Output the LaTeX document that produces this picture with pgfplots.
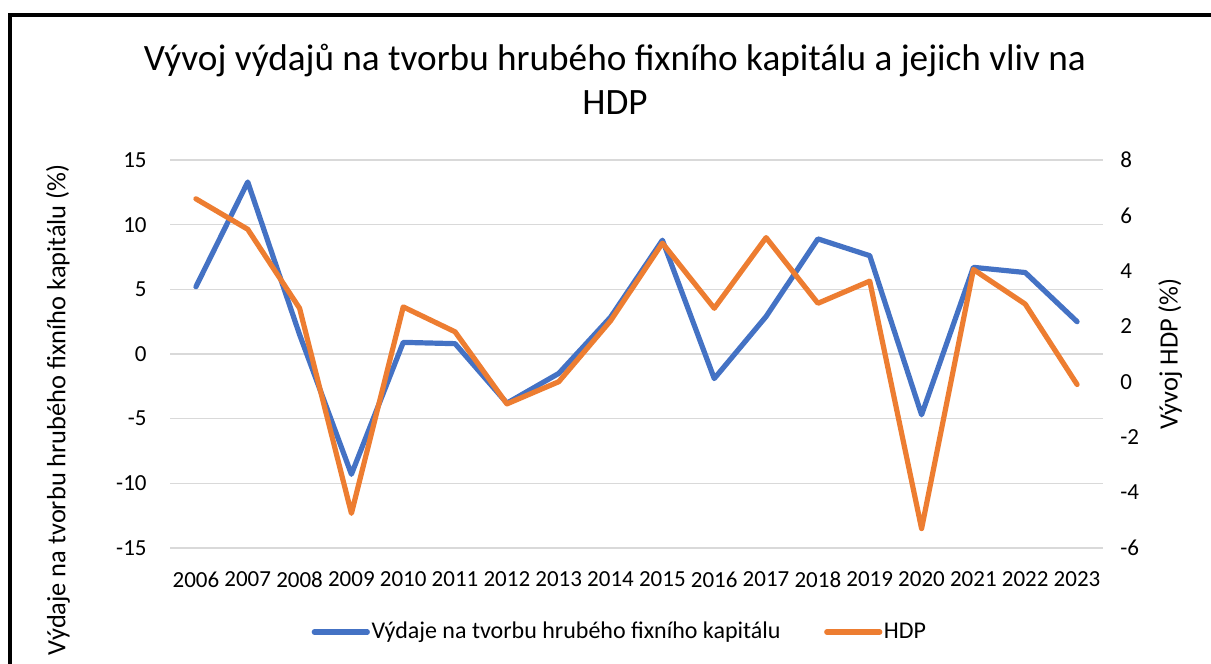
\documentclass[border=0pt]{standalone}
\usepackage{fontspec}
\setmainfont{Carlito}
\usepackage{pgfplots}
\usepackage{pgfplotstable}
\pgfplotsset{compat=1.18}
\definecolor{xblue}{HTML}{4472C4}
\definecolor{xorange}{HTML}{ED7D31}
\definecolor{xgrid}{HTML}{D9D9D9}

% rok, tvorba hrubeho fixniho kapitalu (%), HDP (%)
\pgfplotstableread{
rok gfcf hdp
2006 5.2 6.6
2007 13.3 5.5
2008 1.5 2.65
2009 -9.3 -4.75
2010 0.9 2.7
2011 0.8 1.8
2012 -3.8 -0.8
2013 -1.5 0.0
2014 2.85 2.2
2015 8.8 5.0
2016 -1.9 2.65
2017 2.9 5.2
2018 8.9 2.83
2019 7.6 3.63
2020 -4.7 -5.3
2021 6.7 4.05
2022 6.3 2.8
2023 2.5 -0.1
}\data

\pgfplotsset{
  twin/.style={
    scale only axis, width=466.5pt, height=194pt,
    at={(85pt,58pt)}, anchor=south west,
    xmin=2005.5, xmax=2023.5,
    axis line style={draw=none},
    major tick length=0pt,
    tick label style={font=\fontsize{11.5}{13}\selectfont},
    label style={font=\fontsize{13.2}{15}\selectfont},
    /pgf/number format/assume math mode=true,
    /pgf/number format/1000 sep={},
    every axis plot/.append style={line width=2.6pt, line join=round, line cap=round},
    clip=false,
  }
}

\begin{document}
\begin{tikzpicture}
\useasboundingbox (0,0) rectangle (605.5pt,332pt);
\clip (0,0) rectangle (605.5pt,332pt);
\draw[line width=2pt] (4.75pt,-20pt) rectangle (620pt,324.25pt);

\node[anchor=base, font=\fontsize{18.6}{22}\selectfont] at (307.5pt,296.75pt)
  {Vývoj výdajů na tvorbu hrubého fixního kapitálu a jejich vliv na};
\node[anchor=base, font=\fontsize{18.6}{22}\selectfont] at (307.5pt,274.75pt) {HDP};

\begin{axis}[twin,
  ymin=-15, ymax=15, ytick={-15,-10,...,15},
  xtick={2006,2007,...,2023},
  ymajorgrids, grid style={xgrid, line width=0.8pt},
  yticklabel style={anchor=east, inner sep=0pt, xshift=-11.5pt},
  xticklabel style={anchor=north, inner sep=0pt, yshift=-11.8pt},
  ylabel={Výdaje na tvorbu hrubého fixního kapitálu (\%)},
  ylabel style={at={(axis description cs:-0.12,0.99)}, anchor=east, inner sep=0pt},
]
\addplot[xblue] table[x=rok, y=gfcf] {\data};
\end{axis}

\begin{axis}[twin,
  ymin=-6, ymax=8, ytick={-6,-4,...,8},
  hide x axis, axis y line*=right,
  yticklabel style={anchor=west, inner sep=0pt, xshift=8.5pt},
  ylabel={Vývoj HDP (\%)},
  ylabel style={at={(axis description cs:1.072,0.5)}, anchor=center},
  legend columns=2,
  legend style={draw=none, fill=none, at={(axis description cs:0.482,-0.2165)}, anchor=center,
    font=\fontsize{12}{14}\selectfont, nodes={inner xsep=0.8pt},
    /tikz/every even column/.append style={column sep=21pt}},
  legend image code/.code={\draw[#1] (0pt,0pt) -- (26.5pt,0pt);},
]
\addlegendimage{xblue, line width=2.6pt, line cap=round}
\addlegendentry{Výdaje na tvorbu hrubého fixního kapitálu}
\addplot[xorange] table[x=rok, y=hdp] {\data};
\addlegendentry{HDP}
\end{axis}
\end{tikzpicture}
\end{document}
